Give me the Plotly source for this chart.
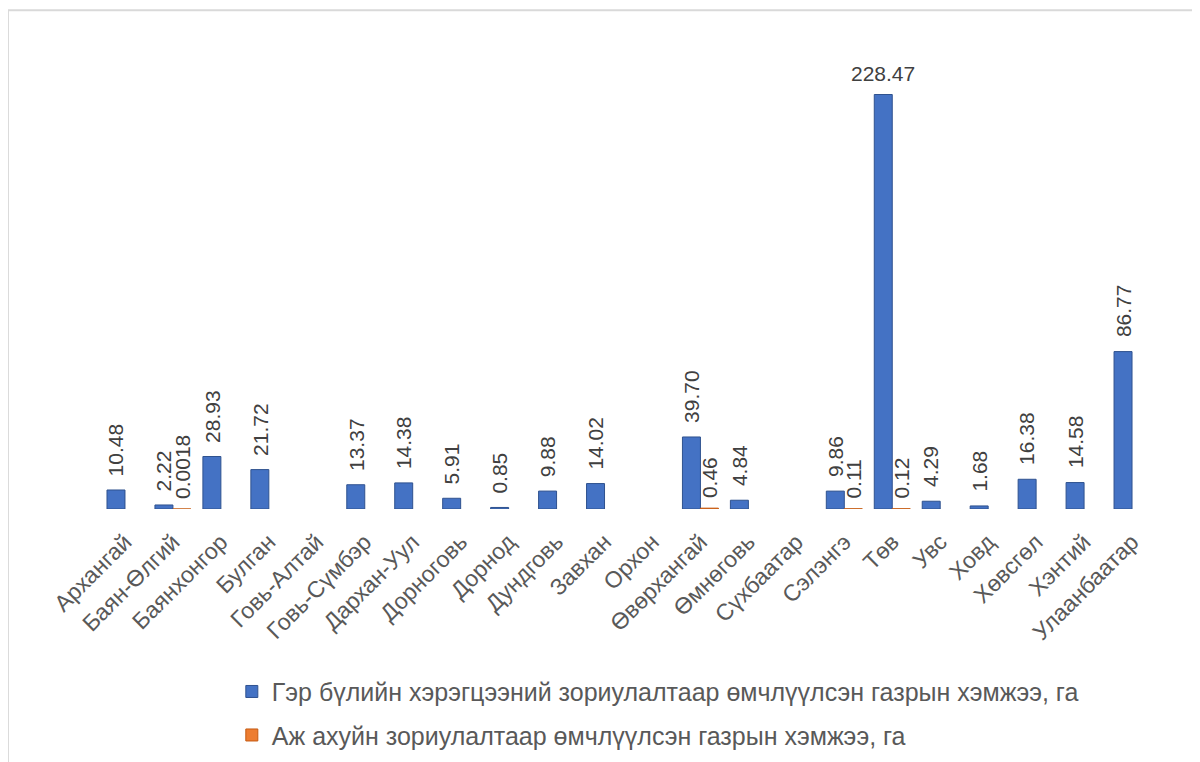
import plotly.graph_objects as go

categories = ["Архангай", "Баян-Өлгий", "Баянхонгор", "Булган", "Говь-Алтай", "Говь-Сүмбэр",
              "Дархан-Уул", "Дорноговь", "Дорнод", "Дундговь", "Завхан", "Орхон", "Өвөрхангай",
              "Өмнөговь", "Сүхбаатар", "Сэлэнгэ", "Төв", "Увс", "Ховд", "Хөвсгөл", "Хэнтий", "Улаанбаатар"]
family_use = [10.48, 2.22, 28.93, 21.72, None, 13.37, 14.38, 5.91, 0.85, 9.88, 14.02, None, 39.70,
              4.84, None, 9.86, 228.47, 4.29, 1.68, 16.38, 14.58, 86.77]
business_use = [None, 0.0018, None, None, None, None, None, None, None, None, None, None, 0.46,
                None, None, 0.11, 0.12, None, None, None, None, None]
family_labels = ["10.48", "2.22", "28.93", "21.72", "", "13.37", "14.38", "5.91", "0.85", "9.88", "14.02", "",
                 "39.70", "4.84", "", "9.86", "228.47", "4.29", "1.68", "16.38", "14.58", "86.77"]
business_labels = ["", "0.0018", "", "", "", "", "", "", "", "", "", "", "0.46", "", "", "0.11", "0.12",
                   "", "", "", "", ""]
name1 = "Гэр бүлийн хэрэгцээний зориулалтаар өмчлүүлсэн газрын хэмжээ, га"
name2 = "Аж ахуйн зориулалтаар өмчлүүлсэн газрын хэмжээ, га"

FONT = "Liberation Sans"
LABEL_SIZE = 21
fig = go.Figure()
fig.add_trace(go.Bar(
    x=categories, y=family_use, name=name1, legendgroup="a",
    marker=dict(color="#4472C4", line=dict(color="#2F528F", width=1)),
))
fig.add_trace(go.Bar(
    x=categories, y=business_use, name=name2, legendgroup="b",
    marker=dict(color="#ED7D31", line=dict(color="#C55A11", width=1)),
))

# data labels
tallest = max(v for v in family_use if v is not None)
for cat, val, lab in zip(categories, family_use, family_labels):
    if val is None or not lab:
        continue
    horizontal = (val == tallest)
    fig.add_annotation(x=cat, y=val, text=lab, showarrow=False, yanchor="bottom",
                       textangle=0 if horizontal else -90, xshift=-9,
                       yshift=8 if horizontal else 12,
                       font=dict(family=FONT, size=LABEL_SIZE, color="#404040"))
for cat, val, lab in zip(categories, business_use, business_labels):
    if val is None or not lab:
        continue
    fig.add_annotation(x=cat, y=val, text=lab, showarrow=False, yanchor="bottom",
                       textangle=-90, xshift=9, yshift=8,
                       font=dict(family=FONT, size=LABEL_SIZE, color="#404040"))

# chart border (top and left edges visible)
fig.add_shape(type="line", xref="paper", yref="paper", x0=-0.0882, x1=1.1, y0=1.0864, y1=1.0864,
              line=dict(color="#D9D9D9", width=2))
fig.add_shape(type="line", xref="paper", yref="paper", x0=-0.0882, x1=-0.0882, y0=1.0864, y1=-0.7,
              line=dict(color="#D9D9D9", width=2))

fig.update_layout(
    width=1200, height=762,
    margin=dict(l=93, r=52, t=42, b=257),
    paper_bgcolor="white", plot_bgcolor="white",
    barmode="group", bargap=0.25, bargroupgap=0,
    font=dict(family=FONT, color="#595959"),
    showlegend=True,
    legend=dict(x=0.124, y=-0.348, xanchor="left", yanchor="top",
                font=dict(family=FONT, size=25, color="#595959"),
                tracegroupgap=8, orientation="v"),
    xaxis=dict(tickangle=-45, tickfont=dict(family=FONT, size=23, color="#595959"),
               ticklabelstandoff=14,
               showline=False, showgrid=False, ticks="", range=[-0.5, 21.5]),
    yaxis=dict(visible=False, range=[0, 253], showgrid=False, zeroline=False),
)
fig.write_html("out.html")
